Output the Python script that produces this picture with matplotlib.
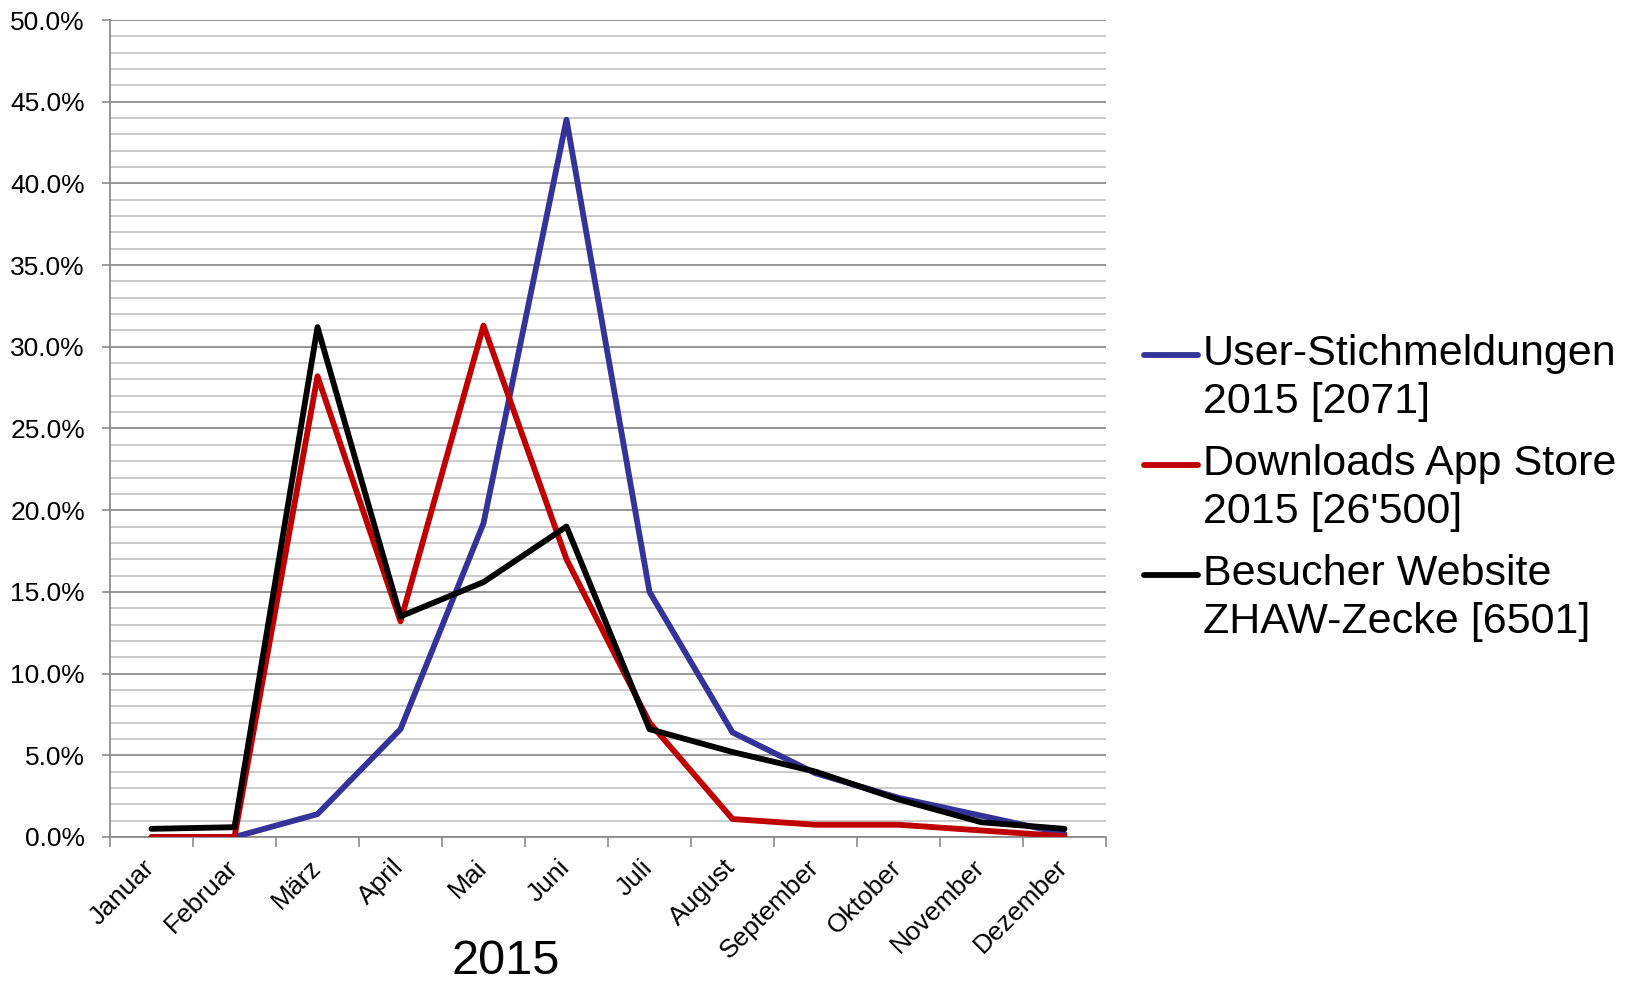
import matplotlib
matplotlib.use("Agg")
import matplotlib.pyplot as plt
from matplotlib.ticker import MultipleLocator, FuncFormatter
from matplotlib.transforms import ScaledTranslation

plt.rcParams['font.family'] = ['Liberation Sans', 'DejaVu Sans']

# Monthly shares (%) 2015
months = ["Januar", "Februar", "März", "April", "Mai", "Juni", "Juli",
          "August", "September", "Oktober", "November", "Dezember"]
user_stich = [0.0, 0.0, 1.4, 6.6, 19.2, 43.9, 15.0, 6.4, 3.9, 2.4, 1.3, 0.2]
downloads = [0.0, 0.0, 28.2, 13.2, 31.3, 17.0, 7.0, 1.1, 0.75, 0.75, 0.4, 0.05]
besucher = [0.5, 0.6, 31.2, 13.5, 15.6, 19.0, 6.6, 5.2, 4.0, 2.3, 0.9, 0.5]

labels = ["User-Stichmeldungen\n2015 [2071]",
          "Downloads App Store\n2015 [26'500]",
          "Besucher Website\nZHAW-Zecke [6501]"]
colors = ["#333399", "#C00000", "#000000"]

fig = plt.figure(figsize=(16.35, 9.86), dpi=100)
ax = fig.add_axes([110 / 1635, 1 - 837 / 986, 996 / 1635, 817 / 986])

x = list(range(len(months)))
for vals, lab, col in zip([user_stich, downloads, besucher], labels, colors):
    ax.plot(x, [v / 100 for v in vals], color=col, lw=4.2, label=lab,
            solid_capstyle='round', solid_joinstyle='round', zorder=3)

ax.set_xlim(-0.5, 11.5)
ax.set_ylim(0, 0.5)

# y axis: major every 5%, minor every 1%
ax.yaxis.set_major_locator(MultipleLocator(0.05))
ax.yaxis.set_minor_locator(MultipleLocator(0.01))
ax.yaxis.set_major_formatter(FuncFormatter(lambda v, p: "{:.1f}%".format(v * 100)))
ax.grid(which='major', axis='y', color='#8c8c8c', lw=1.3, zorder=0)
ax.grid(which='minor', axis='y', color='#bdbdbd', lw=1.1, zorder=0)
ax.tick_params(axis='y', which='major', length=6, width=1.2, color='#8c8c8c',
               labelsize=19, pad=12)
ax.tick_params(axis='y', which='minor', length=0)

# x axis: labels at category centres, tick marks between categories
ax.set_xticks(x)
ax.set_xticklabels(months, rotation=45, ha='right', rotation_mode='anchor')
ax.set_xticks([i - 0.5 for i in range(len(months) + 1)], minor=True)
ax.tick_params(axis='x', which='major', length=0, labelsize=19, pad=13)
ax.tick_params(axis='x', which='minor', length=7, width=1.2, color='#8c8c8c')
shift = ScaledTranslation(-9 / 100, 0, fig.dpi_scale_trans)
for t in ax.get_xticklabels():
    t.set_transform(t.get_transform() + shift)

for s in ['top', 'right']:
    ax.spines[s].set_visible(False)
for s in ['left', 'bottom']:
    ax.spines[s].set_color('#8c8c8c')
    ax.spines[s].set_linewidth(1.3)

ax.set_xlabel("2015", fontsize=35, va='baseline')
ax.xaxis.set_label_coords(0.397, -0.168)

leg = ax.legend(loc='upper left', bbox_to_anchor=(1144 / 1635, 1 - 334 / 986),
                bbox_transform=fig.transFigure, frameon=False, fontsize=31,
                handlelength=1.25, handletextpad=0.12, labelspacing=0.5,
                borderpad=0, borderaxespad=0)
for t in leg.get_texts():
    t.set_linespacing(1.27)
# handles sit next to the first text line, as in the original
for ln in leg.get_lines():
    ln.set_ydata([y + 17 for y in ln.get_ydata()])

fig.savefig("out.png", dpi=100)
